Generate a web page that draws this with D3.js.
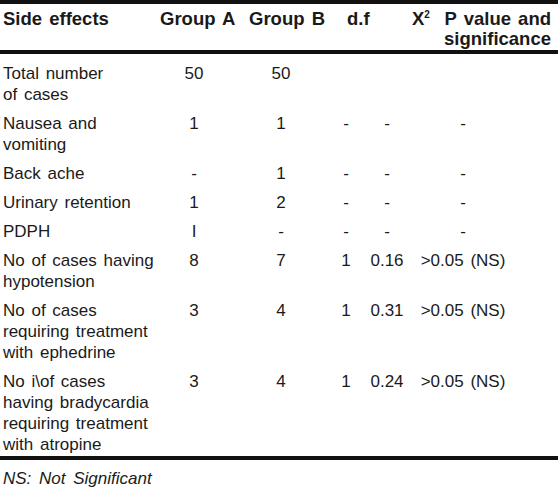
<!DOCTYPE html>
<html>
<head>
<meta charset="utf-8">
<script src="https://cdn.jsdelivr.net/npm/d3@7"></script>
<style>
  html, body { margin: 0; padding: 0; background: #fff; }
  svg { display: block; }
  text { font-family: "Liberation Sans", Arial, sans-serif; fill: #1a1a1a; }
</style>
</head>
<body>
<div id="chart"></div>
<script>
// ---- Data ----
const headerLabels = ["Side effects", "Group A", "Group B", "d.f", "X", "P value and"];
const headerLabels2 = ["", "", "", "", "", "significance"];
const sideEffects = [
  ["Total number", "of cases"],
  ["Nausea and", "vomiting"],
  ["Back ache"],
  ["Urinary retention"],
  ["PDPH"],
  ["No of cases having", "hypotension"],
  ["No of cases", "requiring treatment", "with ephedrine"],
  ["No i\\of cases", "having bradycardia", "requiring treatment", "with atropine"]
];
const groupA = ["50", "1", "-", "1", "I", "8", "3", "3"];
const groupB = ["50", "1", "1", "2", "-", "7", "4", "4"];
const degreesFreedom = ["", "-", "-", "-", "-", "1", "1", "1"];
const chiSquare = ["", "-", "-", "-", "-", "0.16", "0.31", "0.24"];
const pValues = ["", "-", "-", "-", "-", ">0.05 (NS)", ">0.05 (NS)", ">0.05 (NS)"];
const footnote = "NS: Not Significant";

// ---- Layout ----
const W = 558, H = 490;
const svg = d3.select("#chart").append("svg").attr("width", W).attr("height", H);
svg.append("rect").attr("width", W).attr("height", H).attr("fill", "#fff");

const fontSize = 17, hdrFont = 18.5, lineH = 21, rowGap = 8, firstBaseline = 79;

// cumulative row start (in px) built from line counts
const rowStarts = [];
let acc = 0;
sideEffects.forEach((lines) => { rowStarts.push(acc); acc += lines.length * lineH + rowGap; });
const y = d3.scaleLinear().domain([0, 1]).range([firstBaseline, firstBaseline + 1]);

// rules
const rule = (yy, h) => svg.append("rect").attr("x", 0).attr("y", yy).attr("width", W).attr("height", h).attr("fill", "#111");
rule(0, 4);
rule(50, 4);
rule(456, 4);

// header
const hdrX = [3, 160, 249, 347, 412, 551];
const hdrAnchor = ["start", "start", "start", "start", "start", "end"];
const hdr = svg.append("g").attr("font-weight", "bold").attr("font-size", hdrFont);
headerLabels.forEach((lab, i) => {
  const t = hdr.append("text").attr("x", hdrX[i]).attr("y", 25).attr("text-anchor", hdrAnchor[i])
    .style("word-spacing", "2px").text(lab);
  if (i === 4) t.append("tspan").attr("font-size", 10).attr("dy", -7).text("2");
  if (headerLabels2[i]) {
    hdr.append("text").attr("x", hdrX[i]).attr("y", 45).attr("text-anchor", hdrAnchor[i])
      .text(headerLabels2[i]);
  }
});

// body
const body = svg.append("g").attr("font-size", fontSize);
sideEffects.forEach((lines, r) => {
  const base = y(rowStarts[r]);
  lines.forEach((ln, k) => {
    body.append("text").attr("x", 3).attr("y", base + k * lineH).style("word-spacing", "2px").text(ln);
  });
});

const valueCols = [
  { vals: groupA, x: 194 },
  { vals: groupB, x: 281 },
  { vals: degreesFreedom, x: 346 },
  { vals: chiSquare, x: 387 },
  { vals: pValues, x: 463 }
];
valueCols.forEach(col => {
  body.selectAll(null).data(col.vals).enter().append("text")
    .attr("x", col.x)
    .attr("y", (d, i) => y(rowStarts[i]))
    .attr("text-anchor", "middle")
    .style("word-spacing", "2px")
    .text(d => d);
});

// footnote
svg.append("text").attr("x", 3).attr("y", 484).attr("font-size", 17).attr("font-style", "italic")
  .style("word-spacing", "3px").text(footnote);
</script>
</body>
</html>
